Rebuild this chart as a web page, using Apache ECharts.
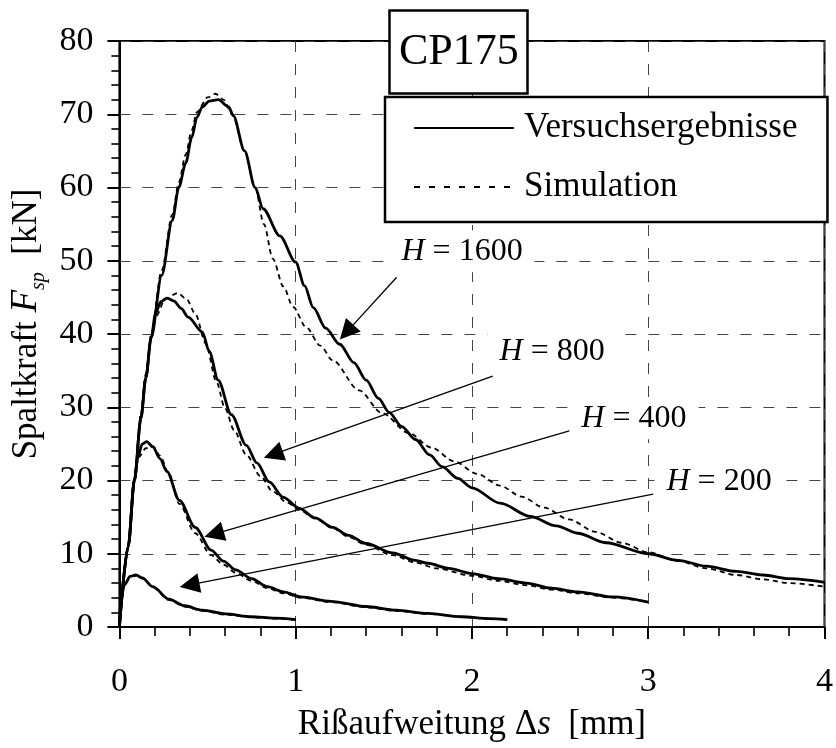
<!DOCTYPE html>
<html>
<head>
<meta charset="utf-8">
<script src="https://cdn.jsdelivr.net/npm/echarts@6/dist/echarts.min.js"></script>
<style>html,body{margin:0;padding:0;background:#fff;}#c{width:836px;height:748px;}</style>
</head>
<body>
<div id="c"></div>
<script>
// ---- data (x: Rißaufweitung [mm], y: Spaltkraft [kN]) ----
const exp1600 = [[0,0],[0.05,11],[0.085,20],[0.122,28.5],[0.15,34],[0.18,39.5],[0.24,48],[0.30,55.5],[0.337,60],[0.376,63.3],[0.41,66.8],[0.44,69.6],[0.47,71],[0.51,71.8],[0.56,72],[0.62,71],[0.646,69.8],[0.71,65],[0.77,60],[0.815,57.1],[0.91,53.4],[1.0,49.8],[1.05,46.6],[1.10,43.6],[1.17,40.8],[1.25,38.6],[1.33,36.1],[1.40,33.7],[1.47,31.2],[1.53,29.3],[1.60,27.4],[1.68,25.6],[1.76,23.5],[1.83,21.9],[1.92,20.3],[2.0,19.0],[2.16,16.9],[2.33,15.1],[2.48,13.8],[2.6,12.8],[2.76,11.5],[3.0,10.0],[3.17,9.1],[3.33,8.3],[3.5,7.6],[3.65,7.1],[3.8,6.6],[4.0,6.1]];
const sim1600 = [[0,0],[0.05,11],[0.085,20.3],[0.122,29],[0.15,34.5],[0.18,40],[0.24,48.7],[0.30,56.3],[0.337,60.7],[0.376,64.5],[0.41,67.8],[0.44,70.3],[0.50,72.3],[0.545,72.8],[0.59,72],[0.64,70],[0.71,65],[0.77,60],[0.82,55],[0.87,50.3],[0.93,46.5],[0.985,43.7],[1.06,40.9],[1.14,38.4],[1.21,36.4],[1.36,32.3],[1.49,29.2],[1.64,26.5],[1.77,24.5],[1.90,22.6],[2.03,20.9],[2.16,19.3],[2.28,17.8],[2.41,16.3],[2.55,14.7],[2.7,13.0],[2.85,11.5],[3.0,10.2],[3.17,9.0],[3.33,8.0],[3.5,7.1],[3.65,6.5],[3.8,6.0],[4.0,5.5]];
const exp800 = [[0,0],[0.05,11],[0.085,20],[0.122,28.5],[0.15,34],[0.18,39.5],[0.205,42.8],[0.235,44.4],[0.27,44.9],[0.31,44.5],[0.35,43.5],[0.39,42.3],[0.47,40.3],[0.51,37.6],[0.56,33.7],[0.635,29],[0.72,24.8],[0.78,22.4],[0.85,19.8],[0.93,17.7],[1.02,16.2],[1.11,14.9],[1.21,13.6],[1.30,12.5],[1.40,11.4],[1.55,10.1],[1.68,9.1],[1.75,8.7],[1.87,8.0],[2.0,7.3],[2.15,6.6],[2.31,6.0],[2.45,5.3],[2.6,4.8],[2.8,4.1],[3.0,3.4]];
const sim800 = [[0,0],[0.05,11],[0.085,20.3],[0.122,29],[0.15,34.5],[0.18,39.5],[0.21,42.5],[0.26,44.8],[0.33,45.6],[0.38,44.8],[0.43,42.8],[0.49,38.7],[0.55,33.5],[0.60,29.8],[0.65,26.9],[0.72,23.5],[0.80,20.6],[0.87,18.5],[0.95,17],[1.02,16],[1.11,14.8],[1.21,13.5],[1.30,12.3],[1.40,11.2],[1.55,9.8],[1.68,8.8],[1.80,8.0],[2.0,7.0],[2.15,6.3],[2.31,5.7],[2.45,5.1],[2.6,4.6],[2.8,4.0],[3.0,3.4]];
const exp400 = [[0,0],[0.05,11],[0.085,20],[0.105,23.3],[0.13,25],[0.155,25.3],[0.19,24.6],[0.23,23],[0.27,21.2],[0.34,17.3],[0.43,13.6],[0.52,10.5],[0.59,9.0],[0.66,7.8],[0.75,6.6],[0.84,5.5],[0.93,4.8],[1.03,4.1],[1.2,3.5],[1.4,2.8],[1.57,2.3],[1.75,1.85],[1.94,1.4],[2.1,1.15],[2.2,1.0]];
const sim400 = [[0,0],[0.05,11],[0.085,20.2],[0.11,23.2],[0.15,24.4],[0.19,24.7],[0.23,23.4],[0.28,21],[0.34,16.8],[0.43,12.8],[0.52,9.8],[0.59,8.5],[0.66,7.4],[0.75,6.3],[0.84,5.3],[0.93,4.6],[1.03,4.0],[1.2,3.4],[1.4,2.7],[1.57,2.2],[1.75,1.8],[1.94,1.4],[2.1,1.1],[2.2,1.0]];
const exp200 = [[0,0],[0.005,3.5],[0.03,5.8],[0.06,6.9],[0.094,7.1],[0.13,6.7],[0.19,5.5],[0.28,3.8],[0.37,2.9],[0.47,2.3],[0.6,1.8],[0.75,1.4],[0.88,1.2],[1.0,1.0]];
const sim200 = [[0,0],[0.005,3.5],[0.03,5.9],[0.07,7.0],[0.10,7.0],[0.14,6.5],[0.19,5.4],[0.28,3.7],[0.37,2.8],[0.47,2.2],[0.6,1.7],[0.75,1.35],[0.88,1.15],[1.0,1.0]];

const expSeries = [exp1600, exp800, exp400, exp200];
const simSeries = [sim1600, sim800, sim400, sim200];

const annotLabels = ['1600','800','400','200'];
const annotPos = [[1.944,51.3],[2.455,37.6],[2.919,28.5],[3.402,19.9]];
const arrowFrom = [[1.573,47.75],[2.118,34.24],[2.567,26.88],[3.028,18.14]];
const arrowTo = [[1.289,40.26],[0.873,23.56],[0.537,12.69],[0.398,5.74]];

const legendNames = ['Versuchsergebnisse','Simulation'];
const panelTitle = 'CP175';

// ---- chart ----
const FONT = 'Liberation Serif';
const chart = echarts.init(document.getElementById('c'), null, {renderer:'canvas'});

const series = [];
expSeries.forEach(d => series.push({
  name: legendNames[0], type:'line', data:d, symbol:'none', smooth:0.3, smoothMonotone:'x',
  lineStyle:{color:'#000', width:2.8, type:'solid'}, itemStyle:{color:'#000'}, z:3
}));
simSeries.forEach(d => series.push({
  name: legendNames[1], type:'line', data:d, symbol:'none', smooth:0.3, smoothMonotone:'x',
  lineStyle:{color:'#000', width:1.8, type:[5,4]}, itemStyle:{color:'#000'}, z:3
}));
series.push({
  name:'annot', type:'scatter', symbolSize:0, z:5, silent:true,
  itemStyle:{color:'#000'},
  data: annotPos.map((p,i) => ({value:p, name:annotLabels[i]})),
  label:{
    show:true, position:'inside', formatter: p => '{i|H} = ' + p.name,
    fontFamily:FONT, fontSize:32, color:'#000', textBorderWidth:0, opacity:1,
    backgroundColor:'#fff', padding:[5,12],
    rich:{i:{fontFamily:FONT, fontStyle:'italic', fontSize:32, color:'#000', textBorderWidth:0}}
  },
  markLine:{
    silent:true, symbol:['none','triangle'], symbolSize:20,
    lineStyle:{color:'#000', width:1.3, type:'solid'},
    itemStyle:{color:'#000'},
    label:{show:false},
    data: arrowFrom.map((f,i) => [{coord:f}, {coord:arrowTo[i]}])
  }
});

const gridLine = {show:true, lineStyle:{color:'#444', width:1, type:[11,12]}};

chart.setOption({
  animation:false,
  backgroundColor:'#fff',
  title:{
    text: panelTitle, left:389, top:10,
    padding:[17,9,17,10],
    borderColor:'#000', borderWidth:2.5, backgroundColor:'#fff',
    textStyle:{fontFamily:FONT, fontSize:44, fontWeight:'normal', color:'#000', lineHeight:50}
  },
  legend:{
    data: [
      {name: legendNames[0], lineStyle:{width:2, type:'solid'}},
      {name: legendNames[1], lineStyle:{width:2, type:[6,9]}}
    ],
    orient:'vertical', left:385, top:97,
    itemWidth:100, itemHeight:14, itemGap:19,
    padding:[11,30,15,28],
    backgroundColor:'#fff', borderColor:'#000', borderWidth:2.5,
    selectedMode:false,
    itemStyle:{opacity:0},
    textStyle:{fontFamily:FONT, fontSize:35, color:'#000', lineHeight:40, padding:[0,0,0,5]}
  },
  grid:{left:118, right:5, top:41, bottom:121, show:true, borderColor:'#000', borderWidth:2, backgroundColor:'transparent'},
  xAxis:{
    type:'value', min:0, max:4, interval:1,
    name:'{n|Rißaufweitung Δ}{i|s}{n|  [mm]}', nameLocation:'middle', nameGap:76,
    nameTextStyle:{fontFamily:FONT, fontSize:35, color:'#000',
      rich:{n:{fontFamily:FONT, fontSize:35, color:'#000', lineHeight:44}, i:{fontFamily:FONT, fontStyle:'italic', fontSize:35, color:'#000', lineHeight:44}}},
    axisLine:{show:true, onZero:false, lineStyle:{color:'#000', width:2}},
    axisTick:{show:true, length:12, lineStyle:{color:'#000', width:2}},
    minorTick:{show:true, splitNumber:5, length:9, lineStyle:{color:'#000', width:1.6}},
    axisLabel:{fontFamily:FONT, fontSize:34, color:'#000', margin:38},
    splitLine:gridLine
  },
  yAxis:{
    type:'value', min:0, max:80, interval:10,
    name:'{n|Spaltkraft }{i|F}{s|sp}{n|  [kN]}', nameLocation:'middle', nameGap:64, nameRotate:90,
    nameTextStyle:{fontFamily:FONT, fontSize:35, color:'#000', padding:[0,0,0,20],
      rich:{n:{fontFamily:FONT, fontSize:35, color:'#000', lineHeight:44},
            i:{fontFamily:FONT, fontStyle:'italic', fontSize:37, color:'#000', lineHeight:44},
            s:{fontFamily:FONT, fontStyle:'italic', fontSize:20, color:'#000', lineHeight:44, verticalAlign:'bottom'}}},
    axisLine:{show:true, onZero:false, lineStyle:{color:'#000', width:2}},
    axisTick:{show:true, length:12, lineStyle:{color:'#000', width:2}},
    minorTick:{show:true, splitNumber:5, length:8, lineStyle:{color:'#000', width:1.6}},
    axisLabel:{fontFamily:FONT, fontSize:34, color:'#000', margin:26},
    splitLine:gridLine
  },
  series: series
});
</script>
</body>
</html>
